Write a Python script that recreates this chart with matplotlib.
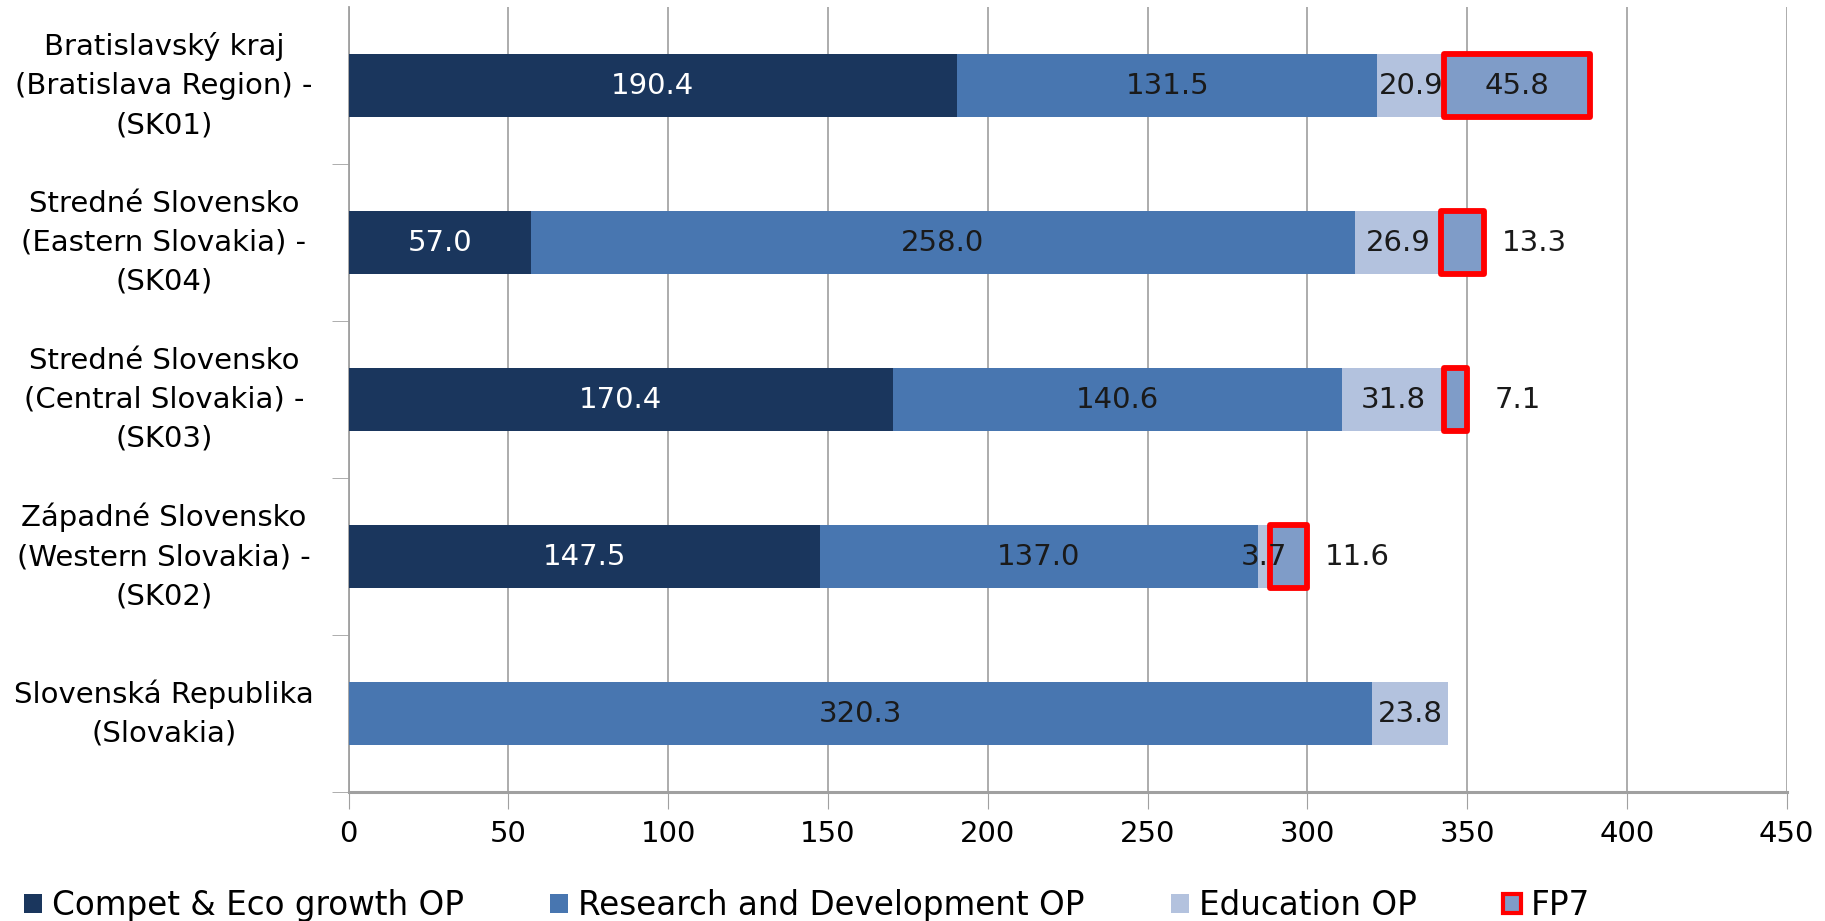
import matplotlib
matplotlib.use("Agg")
import matplotlib.pyplot as plt
import numpy as np
from matplotlib.patches import Patch

# categorias (de arriba a abajo)
regiones = [
    "Bratislavský kraj\n(Bratislava Region) -\n(SK01)",
    "Stredné Slovensko\n(Eastern Slovakia) -\n(SK04)",
    "Stredné Slovensko\n(Central Slovakia) -\n(SK03)",
    "Západné Slovensko\n(Western Slovakia) -\n(SK02)",
    "Slovenská Republika\n(Slovakia)",
]
compet = [190.4, 57.0, 170.4, 147.5, 0.0]
investigacion = [131.5, 258.0, 140.6, 137.0, 320.3]
educacion = [20.9, 26.9, 31.8, 3.7, 23.8]
fp7 = [45.8, 13.3, 7.1, 11.6, 0.0]

series_nombres = ["Compet & Eco growth OP", "Research and Development OP", "Education OP", "FP7"]
colores = ["#1a365d", "#4876b0", "#b3c2de", "#7f9cc8"]
xticks = [0, 50, 100, 150, 200, 250, 300, 350, 400, 450]

plt.rcParams["font.family"] = ["DejaVu Sans"]
plt.rcParams["font.size"] = 21

fig, ax = plt.subplots(figsize=(18.25, 9.21), dpi=100)
fig.subplots_adjust(left=0.191, right=0.979, top=0.992, bottom=0.14)

y = np.arange(len(regiones))
alto = 0.4
tam = 21
izquierda = np.zeros(len(regiones))
series = [compet, investigacion, educacion]
for i, valores in enumerate(series):
    valores = np.array(valores)
    ax.barh(y, valores, left=izquierda, height=alto, color=colores[i], zorder=3)
    for yy, v, l in zip(y, valores, izquierda):
        if v > 0:
            ax.text(l + v / 2, yy, f"{v:.1f}", ha="center", va="center",
                    color="white" if i == 0 else "#1a1a1a", fontsize=tam, zorder=5)
    izquierda = izquierda + valores

# FP7 con borde rojo
for yy, v, l in zip(y, fp7, izquierda):
    if v <= 0:
        continue
    ax.barh(yy, v, left=l, height=alto, color=colores[3], edgecolor="#ff0000",
            linewidth=4.2, joinstyle="round", zorder=4)
    if v > 20:
        ax.text(l + v / 2, yy, f"{v:.1f}", ha="center", va="center", color="#1a1a1a", fontsize=tam, zorder=5)
    else:
        ax.text(l + v + 16, yy, f"{v:.1f}", ha="center", va="center", color="#1a1a1a", fontsize=tam, zorder=5)

ax.set_xlim(0, 450)
ax.set_ylim(4.5, -0.5)
ax.set_xticks(xticks)
ax.set_yticks(y)
ax.set_yticklabels(regiones, multialignment="center", ha="center", va="center", linespacing=1.5)
ax.tick_params(axis="y", length=0, pad=133, labelsize=tam)
ax.set_yticks(np.arange(0.5, 5.0, 1.0), minor=True)
ax.tick_params(axis="y", which="minor", length=12, color="#a0a0a0", direction="out")
ax.tick_params(axis="x", length=12, color="#a0a0a0", labelsize=tam, pad=8)

ax.grid(axis="x", color="#a6a6a6", linewidth=1.3, zorder=0)
for s in ["top", "right"]:
    ax.spines[s].set_visible(False)
ax.spines["left"].set_color("#a0a0a0")
ax.spines["left"].set_linewidth(1.3)
ax.spines["bottom"].set_color("#a0a0a0")
ax.spines["bottom"].set_linewidth(2.2)

handles = [Patch(facecolor=colores[0]), Patch(facecolor=colores[1]), Patch(facecolor=colores[2]),
           Patch(facecolor=colores[3], edgecolor="#ff0000", linewidth=3)]
fig.legend(handles, series_nombres, loc="lower left", bbox_to_anchor=(-0.003, -0.033), ncol=4,
           frameon=False, fontsize=23.5, handlelength=0.55, handleheight=0.55, handletextpad=0.3,
           columnspacing=2.65)

fig.savefig("out.png", dpi=100)
